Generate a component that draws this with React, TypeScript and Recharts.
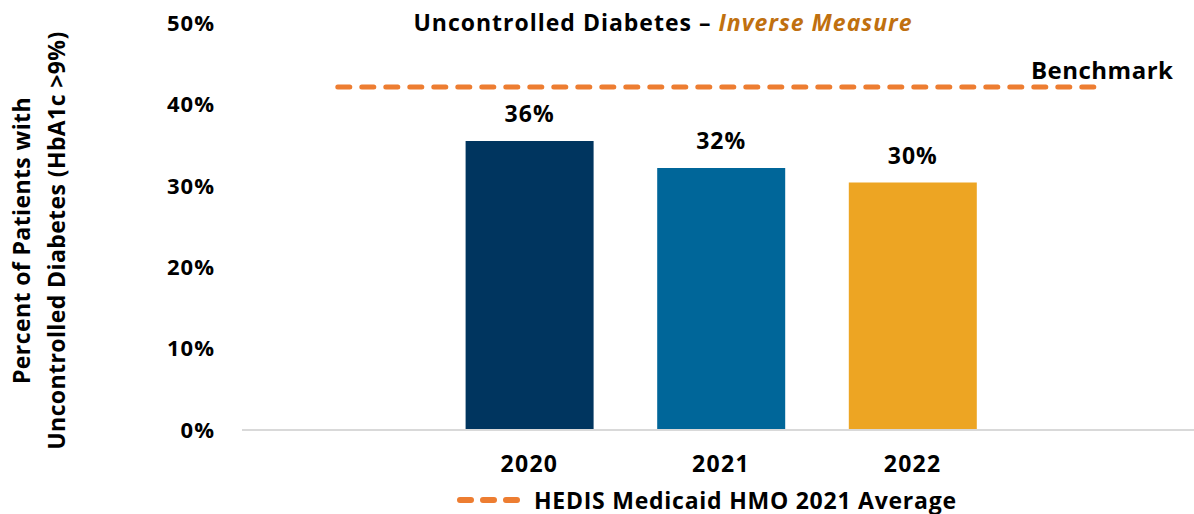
import { Bar, Cell, ComposedChart, LabelList, Legend, Line, XAxis, YAxis } from "recharts";

const categories = ["", "2020", "2021", "2022", " "];
const rates = [null, 35.5, 32.2, 30.4, null];
const benchmark = [42.15, 42.15, 42.15, 42.15, 42.15];
const barColors = ["#00355F", "#00355F", "#006699", "#EDA523", "#EDA523"];
const yTicks = [0, 10, 20, 30, 40, 50];

const FONT = "'Open Sans', sans-serif";

const data = categories.map((c, i) => ({ year: c, rate: rates[i], benchmark: benchmark[i] }));

const YLabel = (props: any) => {
    const { viewBox } = props;
    const cy = viewBox.y + viewBox.height / 2 + 14;
    return (
        <g fontFamily={FONT} fontWeight={700} fontSize={23} fill="#000" letterSpacing={0.4}>
            <text x={30} y={cy} textAnchor="middle" transform={`rotate(-90 30 ${cy})`}>
                Percent of Patients with
            </text>
            <text x={65} y={cy} textAnchor="middle" transform={`rotate(-90 65 ${cy})`}>
                Uncontrolled Diabetes (HbA1c &gt;9%)
            </text>
        </g>
    );
};

const BenchmarkLabel = (props: any) => {
    const { x, y, index } = props;
    if (index !== categories.length - 1) return null;
    return (
        <text x={x - 2} y={y - 8} textAnchor="middle" fontFamily={FONT} fontWeight={700} fontSize={24} letterSpacing={0.5} fill="#000">
            Benchmark
        </text>
    );
};

const LegendContent = () => (
    <div style={{ display: "flex", alignItems: "center", height: 34, paddingTop: 5, paddingLeft: 456, boxSizing: "border-box", fontFamily: FONT, fontWeight: 700, fontSize: 23, letterSpacing: 0.75, color: "#000" }}>
        <svg width={66} height={10} style={{ marginRight: 12 }}>
            <line x1={4} y1={5} x2={62} y2={5} stroke="#ED7D31" strokeWidth={6} strokeDasharray="11 12" strokeLinecap="round" />
        </svg>
        <span>HEDIS Medicaid HMO 2021 Average</span>
    </div>
);

export default function App() {
    return (
        <div style={{ position: "absolute", left: 0, top: 0, width: 1194, height: 514, overflow: "hidden", background: "#fff" }}>
            <div style={{ position: "absolute", left: 0, width: 1326, top: 6, textAlign: "center", fontFamily: FONT, fontWeight: 700, fontSize: 23, letterSpacing: 1, color: "#000", zIndex: 2 }}>
                Uncontrolled Diabetes – <span style={{ color: "#C0700F", fontStyle: "italic" }}>Inverse Measure</span>
            </div>
            <ComposedChart width={1200} height={514} data={data} margin={{ top: 23, right: 0, bottom: 0, left: 0 }}>
                <XAxis
                    dataKey="year"
                    axisLine={{ stroke: "#D9D9D9", strokeWidth: 2 }}
                    tickLine={false}
                    tickSize={0}
                    tickMargin={26}
                    height={50}
                    tick={{ fontFamily: FONT, fontWeight: 700, fontSize: 23, letterSpacing: 1.3, fill: "#000" }}
                />
                <YAxis
                    domain={[0, 50]}
                    ticks={yTicks}
                    width={242}
                    axisLine={false}
                    tickLine={false}
                    tickSize={0}
                    tickMargin={27}
                    tickFormatter={(v) => `${v}%`}
                    tick={{ fontFamily: FONT, fontWeight: 700, fontSize: 22, letterSpacing: 1, fill: "#000" }}
                    label={<YLabel />}
                />
                <Legend verticalAlign="bottom" height={34} content={<LegendContent />} />
                <Bar dataKey="rate" barSize={128} isAnimationActive={false} legendType="none">
                    {data.map((_, i) => (
                        <Cell key={i} fill={barColors[i]} />
                    ))}
                    <LabelList
                        dataKey="rate"
                        position="top"
                        offset={19}
                        formatter={(v: any) => (v == null ? "" : `${Math.round(v)}%`)}
                        style={{ fontFamily: FONT, fontWeight: 700, fontSize: 23, letterSpacing: 1, fill: "#000" }}
                    />
                </Bar>
                <Line
                    dataKey="benchmark"
                    stroke="#ED7D31"
                    strokeWidth={5}
                    strokeDasharray="12 12"
                    strokeLinecap="round"
                    dot={false}
                    activeDot={false}
                    isAnimationActive={false}
                    label={<BenchmarkLabel />}
                />
            </ComposedChart>
        </div>
    );
}
